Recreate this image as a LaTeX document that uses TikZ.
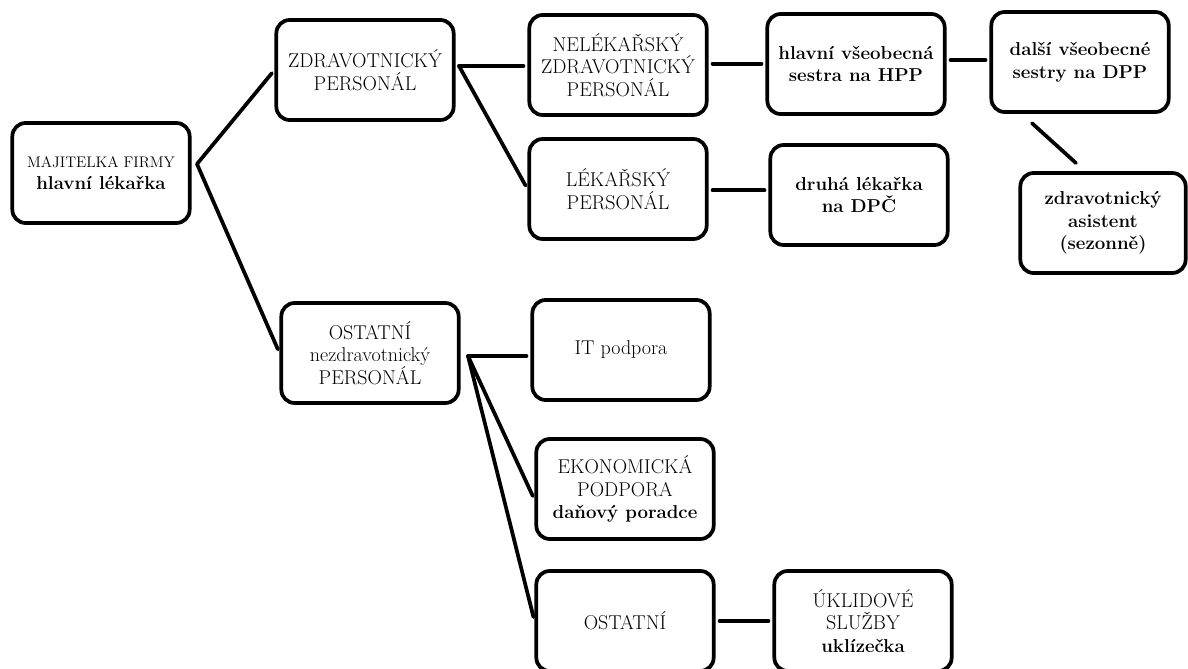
\documentclass[tikz,border=0pt]{standalone}
\usetikzlibrary{positioning}

\begin{document}
\begin{tikzpicture}[
x=0.75pt, y=-0.75pt,
unit/.style={
	% The shape:
	rectangle,rounded corners=10pt,
	% The size:
	minimum width=133pt,minimum height=75pt,
	% The border:
	line width=2.8pt,draw=black,
	% Font
	align=center,font=\fontsize{15}{17}\selectfont},
boldunit/.style={unit,font=\fontsize{14}{17}\selectfont\bfseries},
link/.style={line width=2.8pt,shorten >=3pt,line cap=round},
]
\useasboundingbox (0,0) rectangle (1188,668);

% head of the firm
\node (owner) [unit] at (101,173) {{\fontsize{11.5}{14}\selectfont MAJITELKA FIRMY}\\{\fontsize{14}{17}\selectfont\textbf{hlavní lékařka}}};

% health staff
\node (zdrav) [unit] at (365,70) {ZDRAVOTNICKÝ\\PERSONÁL};
\node (nelek) [unit] at (618,65) {NELÉKAŘSKÝ\\ZDRAVOTNICKÝ\\PERSONÁL};
\node (lekar) [unit] at (618,189) {LÉKAŘSKÝ\\PERSONÁL};
\node (hlavni) [boldunit] at (856,64) {hlavní všeobecná\\sestra na HPP};
\node (druha) [boldunit] at (859,195) {druhá lékařka\\na DPČ};
\node (dalsi) [boldunit] at (1080,62) {další všeobecné\\sestry na DPP};
\node (asist) [boldunit,minimum width=124pt] at (1103,223) {zdravotnický\\asistent\\(sezonně)};

% other staff
\node (ostatni) [unit] at (370,353) {OSTATNÍ\\nezdravotnický\\PERSONÁL};
\node (it) [unit] at (621,350) {IT podpora};
\node (ekon) [unit] at (625,489) {EKONOMICKÁ\\PODPORA\\{\fontsize{14}{17}\selectfont\textbf{daňový poradce}}};
\node (jine) [unit] at (625,621) {OSTATNÍ};
\node (uklid) [unit] at (863,621) {ÚKLIDOVÉ\\SLUŽBY\\{\fontsize{14}{17}\selectfont\textbf{uklízečka}}};

% branching points
\coordinate (j0) at (197,164);
\coordinate (j1) at (459,66);
\coordinate (j2) at (468,356);

\draw[link] (j0) -- (zdrav.west);
\draw[link] (j0) -- (ostatni.west);
\draw[link] (j1) -- (j1 -| nelek.west);
\draw[link] (j1) -- (lekar.west);
\draw[link,shorten <=3pt] ([yshift=1pt]nelek.east) -- ([yshift=1pt]nelek.east -| hlavni.west);
\draw[link,shorten <=3pt] ([yshift=3pt]hlavni.east) -- ([yshift=3pt]hlavni.east -| dalsi.west);
\draw[link,shorten <=3pt] ([yshift=-1pt]lekar.east) -- ([yshift=-1pt]lekar.east -| druha.west);
\draw[link] ([xshift=-36pt,yshift=-7pt]dalsi.south) -- ([xshift=-18pt,yshift=4pt]asist.north);
\draw[link] (j2) -- (j2 -| it.west);
\draw[link] (j2) -- ([yshift=-8pt]ekon.west);
\draw[link] (j2) -- (jine.west);
\draw[link,shorten <=3pt] (jine) -- (uklid);

\end{tikzpicture}
\end{document}
